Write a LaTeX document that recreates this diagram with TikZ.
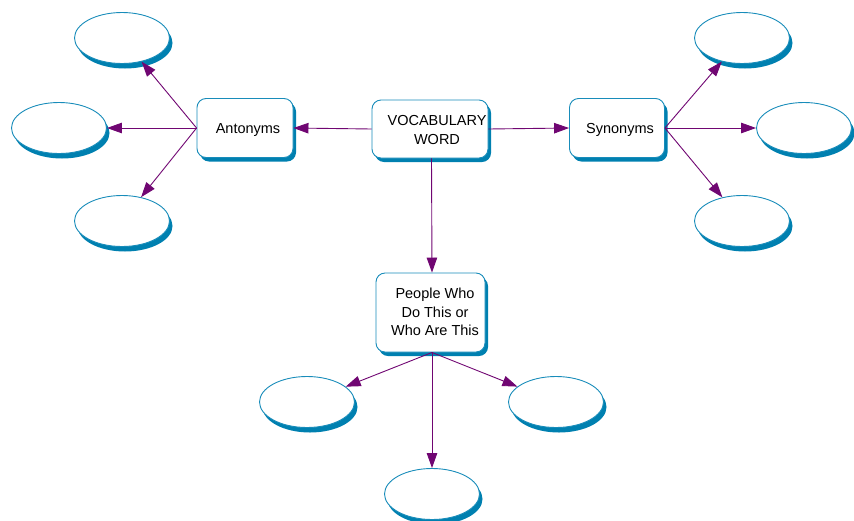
\documentclass[tikz,border=0pt]{standalone}
\usepackage{fontspec}
\setmainfont{Liberation Sans}
\usetikzlibrary{arrows.meta,shadows,shapes.geometric}
\definecolor{edgeblue}{RGB}{24,140,186}
\definecolor{shadeblue}{RGB}{0,128,176}
\definecolor{linkpurple}{RGB}{112,6,114}

\begin{document}
\begin{tikzpicture}[x=1pt,y=-1pt,
  topic/.style={draw=edgeblue, line width=0.9pt, fill=white, rounded corners=9pt,
    inner sep=0pt, general shadow={fill=shadeblue, shadow xshift=3pt, shadow yshift=-4pt}},
  blank/.style={ellipse, draw=edgeblue, line width=0.9pt, fill=white,
    minimum width=95pt, minimum height=51pt, inner sep=0pt,
    general shadow={fill=shadeblue, shadow xshift=3pt, shadow yshift=-5pt}},
  caption/.style={font=\fontsize{14.5}{18.5}\selectfont, align=center, inner sep=0pt},
  link/.style={linkpurple, line width=0.9pt, -{Triangle[length=15pt,width=10.5pt]}}
]
% central word and the three category boxes
\node[topic, minimum width=116pt, minimum height=58pt] (vocab) at (430,129) {};
\node[caption] (vocabtxt) at (437,130) {VOCABULARY\\WORD};
\node[topic, minimum width=96pt, minimum height=59pt] (anto) at (245,128) {};
\node[caption] (antotxt) at (248,130) {Antonyms};
\node[topic, minimum width=95pt, minimum height=59pt] (syno) at (617,128) {};
\node[caption] (synotxt) at (620,130) {Synonyms};
\node[topic, minimum width=109pt, minimum height=79pt] (people) at (430.5,312.5) {};
\node[caption] (peopletxt) at (435,312) {People Who\\Do This or\\Who Are This};

% empty ellipses to be filled in
\node[blank] (a1) at (122,38) {};
\node[blank] (a2) at (59,128) {};
\node[blank] (a3) at (122,221) {};
\node[blank] (s1) at (742,38) {};
\node[blank] (s2) at (804,128) {};
\node[blank] (s3) at (742,221) {};
\node[blank] (p1) at (307,402) {};
\node[blank] (p2) at (556,402) {};
\node[blank] (p3) at (432,494) {};

% connectors
\draw[link] (vocab.west) -- (anto.east);
\draw[link] (vocab.east) -- (syno.west);
\draw[link] ([xshift=1.5pt]vocab.south) -- ([xshift=1.5pt]people.north);

\draw[link] (anto.west) -- (a1);
\draw[link] (anto.west) -- (a2);
\draw[link] (anto.west) -- (a3);

\draw[link] (syno.east) -- (s1);
\draw[link] (syno.east) -- (s2);
\draw[link] (syno.east) -- (s3);

\draw[link] ([xshift=1.5pt]people.south) -- (p1);
\draw[link] ([xshift=1.5pt]people.south) -- (p2);
\draw[link] ([xshift=1.5pt]people.south) -- (p3);

% page frame
\pgfresetboundingbox
\useasboundingbox (0,0) rectangle (854,520);
\end{tikzpicture}
\end{document}
